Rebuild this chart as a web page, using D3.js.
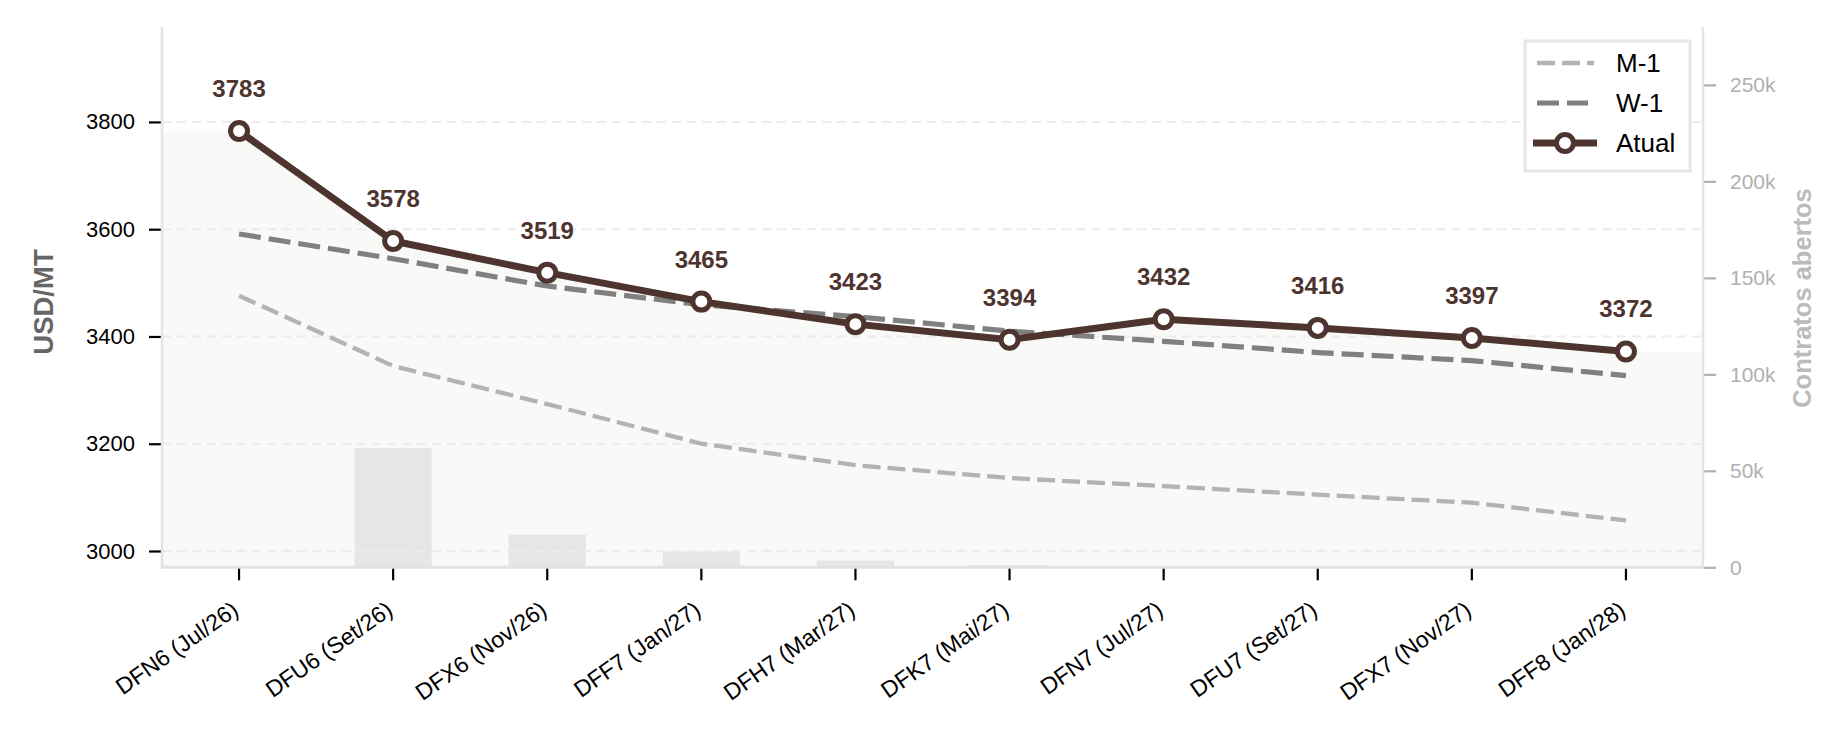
<!DOCTYPE html>
<html>
<head>
<meta charset="utf-8">
<script src="https://cdn.jsdelivr.net/npm/d3@7"></script>
<style>
  html, body { margin: 0; padding: 0; background: #fff; }
  svg { display: block; font-family: "Liberation Sans", Arial, sans-serif; }
</style>
</head>
<body>
<svg id="chart" width="1846" height="734"></svg>
<script>
//contract labels on the x axis
var contracts = ['DFN6 (Jul/26)', 'DFU6 (Set/26)', 'DFX6 (Nov/26)', 'DFF7 (Jan/27)', 'DFH7 (Mar/27)',
    'DFK7 (Mai/27)', 'DFN7 (Jul/27)', 'DFU7 (Set/27)', 'DFX7 (Nov/27)', 'DFF8 (Jan/28)'];

//current curve, week ago and month ago
var atual = [3783, 3578, 3519, 3465, 3423, 3394, 3432, 3416, 3397, 3372];
var w1 = [3591, 3545, 3494, 3459, 3437, 3410, 3391, 3370, 3355, 3327];
var m1 = [3476, 3345, 3274, 3200, 3160, 3136, 3121, 3105, 3090, 3057];

//open interest per contract
var openInterest = [0, 61800, 16900, 8200, 3500, 1200, 0, 0, 0, 0];

//tick values
var leftTicks = [3000, 3200, 3400, 3600, 3800];
var rightTicks = [0, 50000, 100000, 150000, 200000, 250000];

//plot box
var plot = { left: 162, right: 1703, top: 27, bottom: 567.3 };
var brown = '#4e342e';

var svg = d3.select('#chart');

var x = d3.scaleBand().domain(contracts).range([plot.left, plot.right]).padding(0);
var cx = function (d) { return x(d) + x.bandwidth() / 2; };
var y = d3.scaleLinear().domain([2969.6, 3977]).range([plot.bottom, plot.top]);
var y2 = d3.scaleLinear().domain([0, 280000]).range([plot.bottom, plot.top]);

//light area under the current curve, stretched to the plot edges
var areaPts = [[plot.left, atual[0]]]
    .concat(contracts.map(function (c, i) { return [cx(c), atual[i]]; }))
    .concat([[plot.right, atual[atual.length - 1]]]);
svg.append('path')
    .attr('d', d3.area().x(function (d) { return d[0]; }).y0(plot.bottom).y1(function (d) { return y(d[1]); })(areaPts))
    .attr('fill', '#f9f9f8');

//open interest bars
svg.append('g').selectAll('rect')
    .data(openInterest)
    .enter().append('rect')
    .attr('x', function (d, i) { return cx(contracts[i]) - x.bandwidth() / 4; })
    .attr('width', x.bandwidth() / 2)
    .attr('y', function (d) { return y2(d); })
    .attr('height', function (d) { return plot.bottom - y2(d); })
    .attr('fill', '#e6e6e6');

//grid
svg.append('g').selectAll('line')
    .data(leftTicks)
    .enter().append('line')
    .attr('x1', plot.left).attr('x2', plot.right)
    .attr('y1', function (d) { return y(d); }).attr('y2', function (d) { return y(d); })
    .attr('stroke', '#ececec')
    .attr('stroke-width', 2)
    .attr('stroke-dasharray', '9,6');

//left axis
var gl = svg.append('g')
    .attr('transform', 'translate(' + plot.left + ',0)')
    .call(d3.axisLeft(y).tickValues(leftTicks).tickSize(13).tickSizeOuter(0).tickPadding(14).tickFormat(d3.format('d')));
gl.select('.domain').remove();
gl.selectAll('.tick line').attr('stroke', '#000').attr('stroke-width', 2.2);
gl.selectAll('.tick text').attr('fill', '#000').style('font-size', '22px');

//right axis
var gr = svg.append('g')
    .attr('transform', 'translate(' + plot.right + ',0)')
    .call(d3.axisRight(y2).tickValues(rightTicks).tickSize(13).tickSizeOuter(0).tickPadding(14)
        .tickFormat(function (d) { return d === 0 ? '0' : (d / 1000) + 'k'; }));
gr.select('.domain').remove();
gr.selectAll('.tick line').attr('stroke', '#b0b0b0').attr('stroke-width', 2.2);
gr.selectAll('.tick text').attr('fill', '#b0b0b0').style('font-size', '21px');

//bottom axis
var gb = svg.append('g')
    .attr('transform', 'translate(0,' + plot.bottom + ')')
    .call(d3.axisBottom(x).tickSize(13).tickSizeOuter(0));
gb.select('.domain').remove();
gb.selectAll('.tick line').attr('stroke', '#000').attr('stroke-width', 2.2);
gb.selectAll('.tick text')
    .attr('fill', '#000')
    .style('font-size', '23px')
    .attr('text-anchor', 'end')
    .attr('dy', null)
    .attr('y', 0)
    .attr('transform', 'translate(1,46) rotate(-35)');

//spines
svg.append('line').attr('x1', plot.left).attr('x2', plot.left).attr('y1', plot.top).attr('y2', plot.bottom + 1.5)
    .attr('stroke', '#e4e4e4').attr('stroke-width', 2.5);
svg.append('line').attr('x1', plot.right).attr('x2', plot.right).attr('y1', plot.top).attr('y2', plot.bottom + 1.5)
    .attr('stroke', '#e4e4e4').attr('stroke-width', 2.5);
svg.append('line').attr('x1', plot.left).attr('x2', plot.right).attr('y1', plot.bottom).attr('y2', plot.bottom)
    .attr('stroke', '#e2e2e2').attr('stroke-width', 3);

//axis titles
svg.append('text')
    .attr('transform', 'translate(53,302) rotate(-90)')
    .attr('text-anchor', 'middle')
    .attr('fill', '#666')
    .style('font-size', '27.5px').style('font-weight', 'bold')
    .text('USD/MT');
svg.append('text')
    .attr('transform', 'translate(1811,298) rotate(-90)')
    .attr('text-anchor', 'middle')
    .attr('fill', '#bbb')
    .style('font-size', '25.5px').style('font-weight', 'bold')
    .text('Contratos abertos');

//curves
var line = d3.line().x(function (d, i) { return cx(contracts[i]); }).y(function (d) { return y(d); });

svg.append('path').attr('d', line(m1)).attr('fill', 'none')
    .attr('stroke', '#b3b3b3').attr('stroke-width', 4.3).attr('stroke-dasharray', '18,7');
svg.append('path').attr('d', line(w1)).attr('fill', 'none')
    .attr('stroke', '#808080').attr('stroke-width', 5.2).attr('stroke-dasharray', '22,8');
svg.append('path').attr('d', line(atual)).attr('fill', 'none')
    .attr('stroke', brown).attr('stroke-width', 7).attr('stroke-linejoin', 'round');

svg.append('g').selectAll('circle')
    .data(atual)
    .enter().append('circle')
    .attr('cx', function (d, i) { return cx(contracts[i]); })
    .attr('cy', function (d) { return y(d); })
    .attr('r', 8.5)
    .attr('fill', '#fff')
    .attr('stroke', brown)
    .attr('stroke-width', 5);

//value labels
svg.append('g').selectAll('text')
    .data(atual)
    .enter().append('text')
    .attr('x', function (d, i) { return cx(contracts[i]); })
    .attr('y', function (d) { return y(d) - 34; })
    .attr('text-anchor', 'middle')
    .attr('fill', brown)
    .style('font-size', '24px').style('font-weight', 'bold')
    .text(function (d) { return d; });

//legend
var legend = svg.append('g').attr('transform', 'translate(1525,41)');
legend.append('rect').attr('width', 165).attr('height', 130)
    .attr('fill', '#fff').attr('stroke', '#e6e6e6').attr('stroke-width', 3);
var legendItems = [
    { name: 'M-1', color: '#b3b3b3', width: 4.3, dash: '18,7', x1: 12, x2: 69 },
    { name: 'W-1', color: '#808080', width: 5.2, dash: '22,8', x1: 12, x2: 63 },
    { name: 'Atual', color: brown, width: 7, dash: null, x1: 8, x2: 72, marker: true }
];
legendItems.forEach(function (d, i) {
    var ly = 22 + i * 40;
    legend.append('line').attr('x1', d.x1).attr('x2', d.x2).attr('y1', ly).attr('y2', ly)
        .attr('stroke', d.color).attr('stroke-width', d.width).attr('stroke-dasharray', d.dash);
    if (d.marker)
        legend.append('circle').attr('cx', 40).attr('cy', ly).attr('r', 8.5)
            .attr('fill', '#fff').attr('stroke', d.color).attr('stroke-width', 5);
    legend.append('text').attr('x', 91).attr('y', ly + 9)
        .attr('fill', '#000').style('font-size', '26px')
        .text(d.name);
});
</script>
</body>
</html>
